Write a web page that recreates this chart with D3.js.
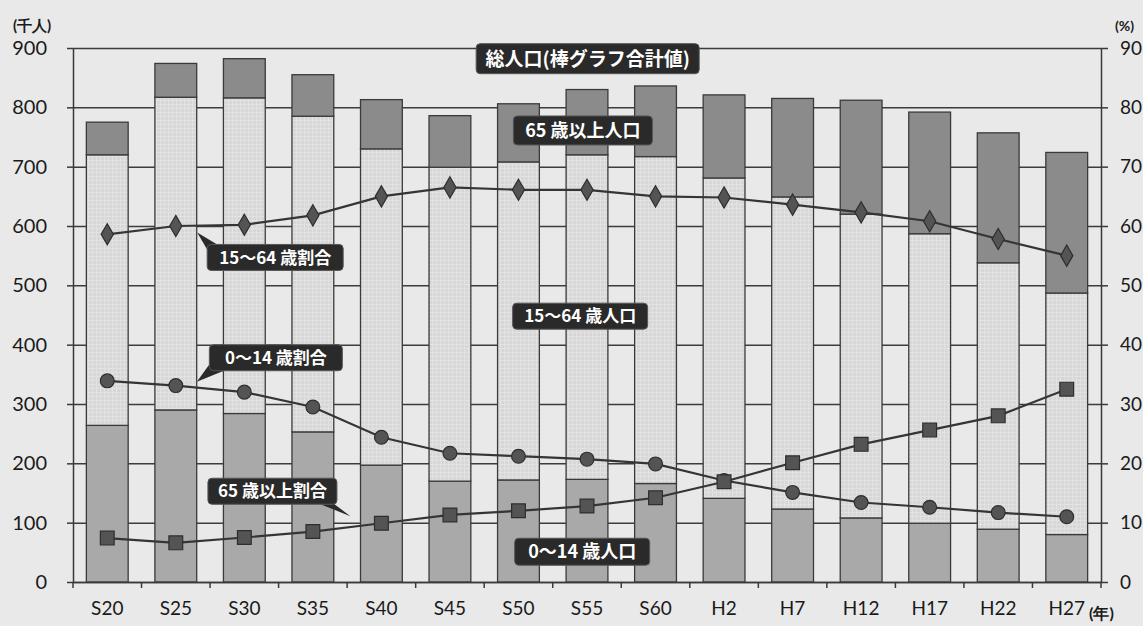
<!DOCTYPE html>
<html lang="ja">
<head>
<meta charset="UTF-8">
<title>人口推移</title>
<style>
  html, body { margin: 0; padding: 0; background: #e9e9e9; }
  .tick-label { font-family: Lato, "Noto Sans", sans-serif; fill: #1a1a1a; }
  .note text { font-family: "Noto Sans CJK JP", sans-serif; font-weight: 700; fill: #fff; }
</style>
</head>
<body>
<div id="chart"></div>
<script src="https://d3js.org/d3.v7.min.js"></script>
<script>
  const categories = ["S20", "S25", "S30", "S35", "S40", "S45", "S50", "S55", "S60", "H2", "H7", "H12", "H17", "H22", "H27"];
  // 人口（千人）
  const pop0_14  = [264, 290, 284, 253, 197, 170, 172, 173, 166, 141, 123, 108,  99,  89,  80];
  const pop15_64 = [456, 527, 532, 532, 533, 529, 536, 547, 551, 540, 526, 512, 488, 449, 407];
  const pop65    = [ 55,  57,  66,  70,  83,  87,  98, 110, 119, 140, 166, 192, 205, 219, 237];
  // 割合（%）
  const rate0_14  = [33.9, 33.1, 32.0, 29.5, 24.4, 21.7, 21.2, 20.7, 19.9, 17.1, 15.1, 13.4, 12.6, 11.7, 11.0];
  const rate15_64 = [58.6, 60.0, 60.2, 61.8, 65.0, 66.5, 66.1, 66.1, 65.0, 64.8, 63.6, 62.3, 60.8, 57.8, 55.0];
  const rate65    = [ 7.4,  6.6,  7.5,  8.5,  9.9, 11.3, 12.0, 12.8, 14.2, 16.9, 20.1, 23.2, 25.6, 28.0, 32.5];
  const leftTicks = [0, 100, 200, 300, 400, 500, 600, 700, 800, 900];
  const rightTicks = [0, 10, 20, 30, 40, 50, 60, 70, 80, 90];

  const W = 1143, H = 626;
  const plot = {left: 73, right: 1101, top: 48, bottom: 582};

  const svg = d3.select("#chart").append("svg")
    .attr("width", W).attr("height", H);

  const defs = svg.append("defs");
  const pat = defs.append("pattern").attr("id", "mid").attr("patternUnits", "userSpaceOnUse")
    .attr("width", 4).attr("height", 4);
  pat.append("rect").attr("width", 4).attr("height", 4).attr("fill", "#d7d7d7");
  pat.append("path").attr("d", "M0,0.5H4M0.5,0V4").attr("stroke", "#e2e2e2").attr("stroke-width", 1);

  const x = d3.scaleBand().domain(categories)
    .range([plot.left, plot.right]).paddingInner(0.39).paddingOuter(0.195);
  const yL = d3.scaleLinear().domain([0, 900]).range([plot.bottom, plot.top]);
  const yR = d3.scaleLinear().domain([0, 90]).range([plot.bottom, plot.top]);
  const step = x.step();
  const cx = i => x(categories[0]) + x.bandwidth() / 2 + i * step;

  // grid
  svg.append("g").attr("class", "grid")
    .attr("transform", `translate(${plot.left},0)`)
    .call(d3.axisLeft(yL).tickValues(leftTicks).tickSize(-(plot.right - plot.left)).tickFormat(""))
    .call(g => g.select(".domain").remove())
    .call(g => g.selectAll("line").attr("stroke", "#3c3c3c").attr("stroke-width", 1.5));

  // stacked bars
  const stackData = categories.map((c, i) => ({cat: c, a: pop0_14[i], b: pop15_64[i], c65: pop65[i]}));
  const stack = d3.stack().keys(["a", "b", "c65"])(stackData);
  const fills = {a: "#a9a9a9", b: "url(#mid)", c65: "#8b8b8b"};

  svg.append("g").selectAll("g").data(stack).join("g")
    .attr("fill", d => fills[d.key])
    .selectAll("rect").data(d => d).join("rect")
    .attr("x", d => x(d.data.cat))
    .attr("width", x.bandwidth())
    .attr("y", d => yL(d[1]))
    .attr("height", d => yL(d[0]) - yL(d[1]))
    .attr("stroke", "#3a3a3a").attr("stroke-width", 1.3);

  // axes
  const axisStyle = g => {
    g.select(".domain").attr("stroke", "#3a3a3a").attr("stroke-width", 1.5);
    g.selectAll(".tick line").attr("stroke", "#3a3a3a").attr("stroke-width", 1.5);
    g.selectAll(".tick text").attr("class", "tick-label").attr("font-size", 20);
  };
  svg.append("g").attr("transform", `translate(${plot.left},0)`)
    .call(d3.axisLeft(yL).tickValues(leftTicks).tickSize(6).tickSizeOuter(0).tickPadding(20))
    .call(axisStyle);
  const ra = svg.append("g").attr("transform", `translate(${plot.right},0)`)
    .call(d3.axisRight(yR).tickValues(rightTicks).tickSize(7).tickSizeOuter(0).tickPadding(12))
    .call(axisStyle);
  ra.selectAll(".tick text").attr("font-size", 19);
  const xa = svg.append("g").attr("transform", `translate(0,${plot.bottom})`)
    .call(d3.axisBottom(x).tickSize(0).tickPadding(20))
    .call(axisStyle);
  xa.selectAll(".tick text").attr("font-size", 19);
  xa.selectAll(".bnd").data(d3.range(categories.length + 1)).join("line")
    .attr("x1", i => plot.left + i * step).attr("x2", i => plot.left + i * step)
    .attr("y1", 0).attr("y2", 6).attr("stroke", "#3a3a3a").attr("stroke-width", 1.5);

  svg.append("text").attr("class", "tick-label").attr("x", 13).attr("y", 31)
    .attr("font-family", "Noto Sans CJK JP").attr("font-size", 15).attr("font-weight", 700).text("(千人)");
  svg.append("text").attr("class", "tick-label").attr("x", 1115).attr("y", 31)
    .attr("font-family", "Noto Sans CJK JP").attr("font-size", 14).attr("font-weight", 700).text("(%)");
  svg.append("text").attr("class", "tick-label").attr("x", 1089).attr("y", 619)
    .attr("font-family", "Noto Sans CJK JP").attr("font-size", 16).attr("font-weight", 700).text("(年)");

  // ratio lines
  const lineGen = d3.line().x((d, i) => cx(i)).y(d => yR(d));
  const series = [
    {data: rate15_64, shape: d3.symbolDiamond, size: 130},
    {data: rate0_14, shape: d3.symbolCircle, size: 150},
    {data: rate65, shape: d3.symbolSquare, size: 190}
  ];
  series.forEach(s => {
    svg.append("path").datum(s.data).attr("d", lineGen)
      .attr("fill", "none").attr("stroke", "#353535").attr("stroke-width", 2.2);
    svg.append("g").selectAll("path").data(s.data).join("path")
      .attr("transform", (d, i) => `translate(${cx(i)},${yR(d)})`)
      .attr("d", d3.symbol().type(s.shape).size(s.size))
      .attr("fill", "#545454").attr("stroke", "#2e2e2e").attr("stroke-width", 1.2);
  });

  // callouts: centre given as category index / left-axis value
  const notes = [
    {t: "総人口(棒グラフ合計値)", i: 7.01, v: 882, w: 223, h: 30, fs: 19},
    {t: "65 歳以上人口", i: 6.94, v: 761, w: 139, h: 29, fs: 18},
    {t: "15～64 歳割合", i: 2.45, v: 547, w: 136, h: 26, fs: 17, tail: [[-68, -8], [-78, -25], [-58, -13]]},
    {t: "0～14 歳割合", i: 2.46, v: 378, w: 133, h: 26, fs: 17, tail: [[-66, 6], [-79, 24], [-52, 13]]},
    {t: "15～64 歳人口", i: 6.9, v: 448, w: 135, h: 26, fs: 17},
    {t: "65 歳以上割合", i: 2.41, v: 153, w: 129, h: 26, fs: 17, tail: [[48, 13], [78, 25], [62, 13]]},
    {t: "0～14 歳人口", i: 6.93, v: 51, w: 135, h: 27, fs: 18}
  ];
  const ng = svg.append("g").attr("class", "note").selectAll("g").data(notes).join("g")
    .attr("transform", d => `translate(${cx(d.i)},${yL(d.v)})`);
  ng.filter(d => d.tail).append("path")
    .attr("d", d => "M" + d.tail.map(p => p.join(",")).join("L") + "Z")
    .attr("fill", "#2a2a2a");
  ng.append("rect")
    .attr("x", d => -d.w / 2).attr("y", d => -d.h / 2)
    .attr("width", d => d.w).attr("height", d => d.h)
    .attr("rx", 4).attr("fill", "#2a2a2a").attr("stroke", "#555").attr("stroke-width", 1);
  ng.append("text").attr("text-anchor", "middle").attr("dy", "0.36em")
    .attr("font-size", d => d.fs).text(d => d.t);
</script>
</body>
</html>
